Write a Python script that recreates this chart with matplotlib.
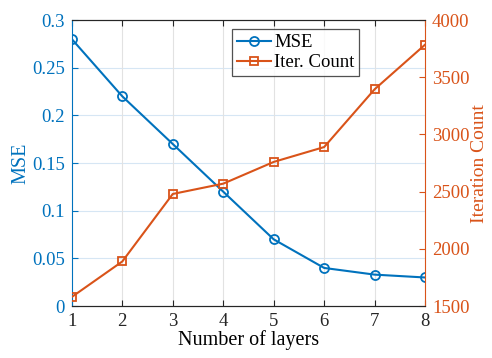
import matplotlib
matplotlib.use("Agg")
import matplotlib.pyplot as plt

plt.rcParams['font.family'] = ['Liberation Serif', 'DejaVu Serif']

layers = [1, 2, 3, 4, 5, 6, 7, 8]
mse = [0.28, 0.22, 0.17, 0.12, 0.07, 0.04, 0.033, 0.030]
iter_count = [1580, 1890, 2480, 2570, 2760, 2890, 3395, 3785]

blue = '#0072BD'
orange = '#D95319'

fig = plt.figure(figsize=(4.92, 3.58), dpi=100)
ax = fig.add_axes([0.146, 0.145, 0.718, 0.799])
ax2 = ax.twinx()

l1, = ax.plot(layers, mse, '-o', color=blue, lw=1.5, ms=6.5, mfc='none', mew=1.3, label='MSE')
l2, = ax2.plot(layers, iter_count, '-s', color=orange, lw=1.5, ms=5.5, mfc='none', mew=1.3, label='Iter. Count')

ax.set_xlim(1, 8)
ax.set_ylim(0, 0.3)
ax2.set_ylim(1500, 4000)
ax.set_xticks(layers)
ax.set_yticks([0, 0.05, 0.1, 0.15, 0.2, 0.25, 0.3])
ax.set_yticklabels(['0', '0.05', '0.1', '0.15', '0.2', '0.25', '0.3'])
ax2.set_yticks([1500, 2000, 2500, 3000, 3500, 4000])

# light grid like MATLAB
for y in [0.05, 0.1, 0.15, 0.2, 0.25]:
    ax.axhline(y, color='#d6e6f4', lw=0.8, zorder=0)
for x in layers[1:-1]:
    ax.axvline(x, color='#e2e2e2', lw=0.8, zorder=0)

ax.set_xlabel('Number of layers', fontsize=14.5, labelpad=0)
ax.set_ylabel('MSE', fontsize=14.5, color=blue, labelpad=1)
ax2.set_ylabel('Iteration Count', fontsize=14, color=orange, labelpad=1)

ax.tick_params(axis='x', direction='in', top=True, labelsize=13.5, colors='#262626', length=4, pad=5)
ax.tick_params(axis='y', direction='in', labelsize=13.5, colors=blue, length=4, pad=5)
ax2.tick_params(axis='y', direction='in', labelsize=13.5, colors=orange, length=4, pad=5)

ax.spines['left'].set_color(blue)
ax2.spines['left'].set_visible(False)
ax2.spines['right'].set_color(orange)
ax.spines['right'].set_visible(False)
ax2.spines['top'].set_color('#262626')
ax2.spines['bottom'].set_color('#262626')
ax.spines['top'].set_color('#262626')
ax.spines['bottom'].set_color('#262626')

leg = ax2.legend(handles=[l1, l2], loc='upper left', bbox_to_anchor=(0.472, 0.918),
                 bbox_transform=fig.transFigure, fontsize=13.5, frameon=True,
                 fancybox=False, edgecolor='#262626', handlelength=1.8,
                 handletextpad=0.2, borderpad=0.25, labelspacing=0.15, borderaxespad=0)
leg.get_frame().set_linewidth(0.9)

fig.savefig('out.png', dpi=100)
